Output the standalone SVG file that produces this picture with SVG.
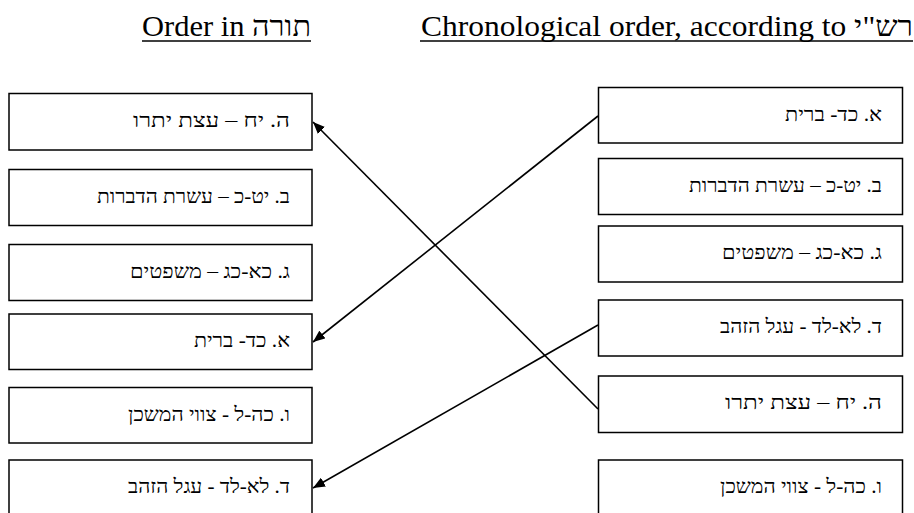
<svg xmlns="http://www.w3.org/2000/svg" width="914" height="513" viewBox="0 0 914 513">
<defs>
<style>
.box{fill:#fff;stroke:#000;stroke-width:1.5}
.t{font-family:"Liberation Serif","Times New Roman",serif;font-size:20px;fill:#000;text-anchor:end}
.h{font-family:"Liberation Serif","Times New Roman",serif;font-size:29px;fill:#000}
.conn{stroke:#000;stroke-width:1.6;fill:none;marker-end:url(#ah)}
</style>
<marker id="ah" viewBox="0 0 12 10" refX="12" refY="5" markerWidth="12" markerHeight="10" markerUnits="userSpaceOnUse" orient="auto">
<path d="M0,0 L12,5 L0,10 z" fill="#000"/>
</marker>
</defs>
<rect width="914" height="513" fill="#fff"/>
<g id="header-left">
<text class="h" x="142" y="36" textLength="169" lengthAdjust="spacingAndGlyphs">Order in תורה</text>
<line x1="142" y1="41" x2="311" y2="41" stroke="#000" stroke-width="1.4"/>
</g>
<g id="header-right">
<text class="h" x="421" y="36" textLength="492" lengthAdjust="spacingAndGlyphs">Chronological order, according to רש"י</text>
<line x1="420" y1="41" x2="913" y2="41" stroke="#000" stroke-width="1.4"/>
</g>
<g id="L1"><rect class="box" x="9" y="93.5" width="303" height="56.5"/><text class="t" x="290" y="127" textLength="157" lengthAdjust="spacingAndGlyphs">ה. יח – עצת יתרו</text></g>
<g id="L2"><rect class="box" x="9" y="169.5" width="303" height="56"/><text class="t" x="290" y="203" textLength="193" lengthAdjust="spacingAndGlyphs">ב. יט-כ – עשרת הדברות</text></g>
<g id="L3"><rect class="box" x="9" y="244.5" width="303" height="56"/><text class="t" x="290" y="278" textLength="160" lengthAdjust="spacingAndGlyphs">ג. כא-כג –  משפטים</text></g>
<g id="L4"><rect class="box" x="9" y="314" width="303" height="55.5"/><text class="t" x="290" y="347" textLength="96" lengthAdjust="spacingAndGlyphs">א. כד- ברית</text></g>
<g id="L5"><rect class="box" x="9" y="387.5" width="303" height="55.5"/><text class="t" x="290" y="421" textLength="162" lengthAdjust="spacingAndGlyphs">ו. כה-ל - צווי המשכן</text></g>
<g id="L6"><rect class="box" x="9" y="460" width="303" height="60"/><text class="t" x="290" y="493" textLength="162" lengthAdjust="spacingAndGlyphs">ד. לא-לד - עגל הזהב</text></g>
<g id="R1"><rect class="box" x="598.5" y="87.5" width="304" height="55.5"/><text class="t" x="882" y="121" textLength="97" lengthAdjust="spacingAndGlyphs">א. כד- ברית</text></g>
<g id="R2"><rect class="box" x="598.5" y="158.5" width="304" height="56"/><text class="t" x="882" y="192" textLength="193" lengthAdjust="spacingAndGlyphs">ב. יט-כ – עשרת הדברות</text></g>
<g id="R3"><rect class="box" x="598.5" y="226" width="304" height="56"/><text class="t" x="882" y="259" textLength="160" lengthAdjust="spacingAndGlyphs">ג. כא-כג –  משפטים</text></g>
<g id="R4"><rect class="box" x="598.5" y="300" width="304" height="56"/><text class="t" x="882" y="333" textLength="162" lengthAdjust="spacingAndGlyphs">ד. לא-לד - עגל הזהב</text></g>
<g id="R5"><rect class="box" x="598.5" y="376" width="304" height="56.5"/><text class="t" x="882" y="409" textLength="157" lengthAdjust="spacingAndGlyphs">ה. יח – עצת יתרו</text></g>
<g id="R6"><rect class="box" x="598.5" y="460" width="304" height="60"/><text class="t" x="882" y="493" textLength="162" lengthAdjust="spacingAndGlyphs">ו. כה-ל - צווי המשכן</text></g>
<g id="connectors">
<line class="conn" x1="598" y1="409" x2="313" y2="122"/>
<line class="conn" x1="598" y1="116" x2="313" y2="342"/>
<line class="conn" x1="598" y1="325" x2="313" y2="488"/>
</g>
</svg>
